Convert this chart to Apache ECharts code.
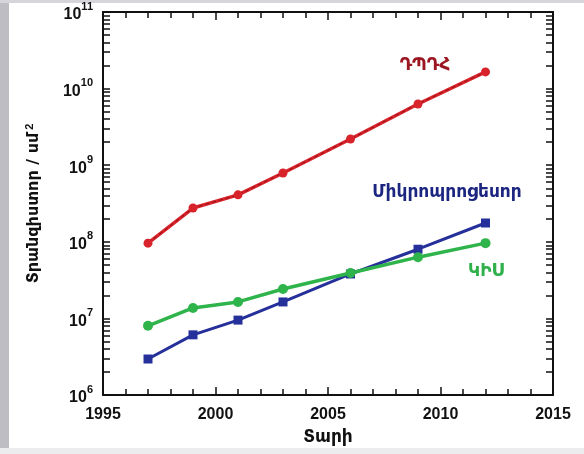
<!DOCTYPE html>
<html><head><meta charset="utf-8">
<script src="https://cdn.jsdelivr.net/npm/echarts@6/dist/echarts.min.js"></script>
<style>html,body{margin:0;padding:0;background:#fff}#c{width:584px;height:454px}</style>
</head><body><div id="c"></div>
<script>
const years = [1997, 1999, 2001, 2003, 2006, 2009, 2012];
const dram = [9.6e7, 2.76e8, 4.1e8, 7.9e8, 2.2e9, 6.3e9, 1.65e10];
const cpu  = [2.95e6, 6.1e6, 9.5e6, 1.64e7, 3.8e7, 8.0e7, 1.76e8];
const asic = [8.0e6, 1.37e7, 1.64e7, 2.42e7, 3.92e7, 6.3e7, 9.6e7];
const xTicks = [1995, 2000, 2005, 2010, 2015];
const yExponents = [6, 7, 8, 9, 10, 11];
const seriesNames = ['ԴՊԴՀ', 'Միկրոպրոցեսոր', 'ԿԻՍ'];
const xName = 'Տարի';
const yName = 'Տրանզիստոր / սմ';

const yMin = Math.pow(10, yExponents[0]);
const yMax = Math.pow(10, yExponents[yExponents.length - 1]);
const majorRaw = yExponents.map(e => Math.pow(10, e));
const allTicks = majorRaw.slice();
for (let i = 0; i < yExponents.length - 1; i++) {
  for (let m = 2; m <= 9; m++) allTicks.push(m * Math.pow(10, yExponents[i]));
}
allTicks.sort((a, b) => a - b);

const chart = echarts.init(document.getElementById('c'));
const FONT = 'Liberation Sans';
const AFONT = 'DejaVu Sans';
const pair = a => years.map((y, i) => [y, a[i]]);
const grid = {left: 103, right: 31, top: 12, bottom: 59};

const xBase = {
  type: 'value', min: xTicks[0], max: xTicks[xTicks.length - 1], interval: 5,
  axisLine: {lineStyle: {color: '#111', width: 2}},
  axisTick: {inside: true, length: 8, lineStyle: {color: '#111', width: 1.5}},
  minorTick: {show: true, splitNumber: 5, length: 6, lineStyle: {color: '#111', width: 1.5}},
  splitLine: {show: false}
};
const yTick = {show: true, inside: true, length: 7, customValues: allTicks, lineStyle: {color: '#111', width: 1.5}};

chart.setOption({
  backgroundColor: '#fff',
  animation: false,
  grid: grid,
  xAxis: [
    Object.assign({}, xBase, {
      position: 'bottom',
      name: xName, nameLocation: 'middle', nameGap: 34,
      nameTextStyle: {fontFamily: AFONT, fontWeight: 'bold', fontSize: 17, color: '#111'},
      axisLabel: {fontFamily: FONT, fontWeight: 'bold', fontSize: 16, color: '#111', margin: 12, formatter: v => String(v)}
    }),
    Object.assign({}, xBase, {position: 'top', axisLabel: {show: false}})
  ],
  yAxis: [
    {
      type: 'log', logBase: 10, min: yMin, max: yMax,
      position: 'left',
      axisLine: {lineStyle: {color: '#111', width: 2}},
      axisTick: yTick,
      splitLine: {show: false},
      name: '{a|' + yName + '}{s|2}', nameLocation: 'middle', nameGap: 60, nameRotate: 90,
      nameTextStyle: {rich: {
        a: {fontFamily: AFONT, fontWeight: 'bold', fontSize: 16, color: '#111'},
        s: {fontFamily: FONT, fontWeight: 'bold', fontSize: 11, color: '#111', verticalAlign: 'top', padding: [0, 0, 8, 3]}
      }},
      axisLabel: {
        margin: 10,
        customValues: majorRaw,
        formatter: v => '{b|10}{s|' + Math.round(Math.log10(v)) + '}',
        rich: {
          b: {fontFamily: FONT, fontWeight: 'bold', fontSize: 16, color: '#111', padding: [6, 0, 0, 0]},
          s: {fontFamily: FONT, fontWeight: 'bold', fontSize: 11, color: '#111', verticalAlign: 'top', padding: [0, 0, 6, 0]}
        }
      }
    },
    {
      type: 'log', logBase: 10, min: yMin, max: yMax,
      position: 'right',
      axisLine: {lineStyle: {color: '#111', width: 2}},
      axisTick: yTick,
      axisLabel: {show: false}, splitLine: {show: false}
    }
  ],
  series: [
    {name: seriesNames[0], type: 'line', data: pair(dram), symbol: 'circle', symbolSize: 9,
     lineStyle: {color: '#d8232a', width: 3.5}, itemStyle: {color: '#d8232a'}},
    {name: seriesNames[0] + '_c', type: 'line', data: pair(dram), symbol: 'none',
     lineStyle: {color: 'rgba(90,0,10,0.55)', width: 1, type: [4, 3]}, silent: true},
    {name: seriesNames[1], type: 'line', data: pair(cpu), symbol: 'rect', symbolSize: 9,
     lineStyle: {color: '#26309a', width: 3}, itemStyle: {color: '#26309a'}},
    {name: seriesNames[2], type: 'line', data: pair(asic), symbol: 'circle', symbolSize: 10,
     lineStyle: {color: '#2fb44c', width: 3.5}, itemStyle: {color: '#2fb44c'}}
  ],
  graphic: [
    {type: 'rect', left: 0, top: 0, shape: {width: 9, height: 454}, style: {fill: '#bdbdc3'}, z: -10},
    {type: 'rect', left: 0, top: 0, shape: {width: 584, height: 3}, style: {fill: '#d6d6da'}, z: -10},
    {type: 'rect', left: 0, top: 448, shape: {width: 584, height: 6}, style: {fill: '#ececee'}, z: -10},
    {type: 'text', x: 425, y: 66, style: {text: seriesNames[0], fill: '#9c1622', font: 'bold 17px "DejaVu Sans"', align: 'center', verticalAlign: 'middle'}},
    {type: 'text', x: 447, y: 193, style: {text: seriesNames[1], fill: '#1c2680', font: 'bold 17px "DejaVu Sans"', align: 'center', verticalAlign: 'middle'}},
    {type: 'text', x: 486, y: 272, style: {text: seriesNames[2], fill: '#2fb04a', font: 'bold 17px "DejaVu Sans"', align: 'center', verticalAlign: 'middle'}}
  ]
});
</script></body></html>
